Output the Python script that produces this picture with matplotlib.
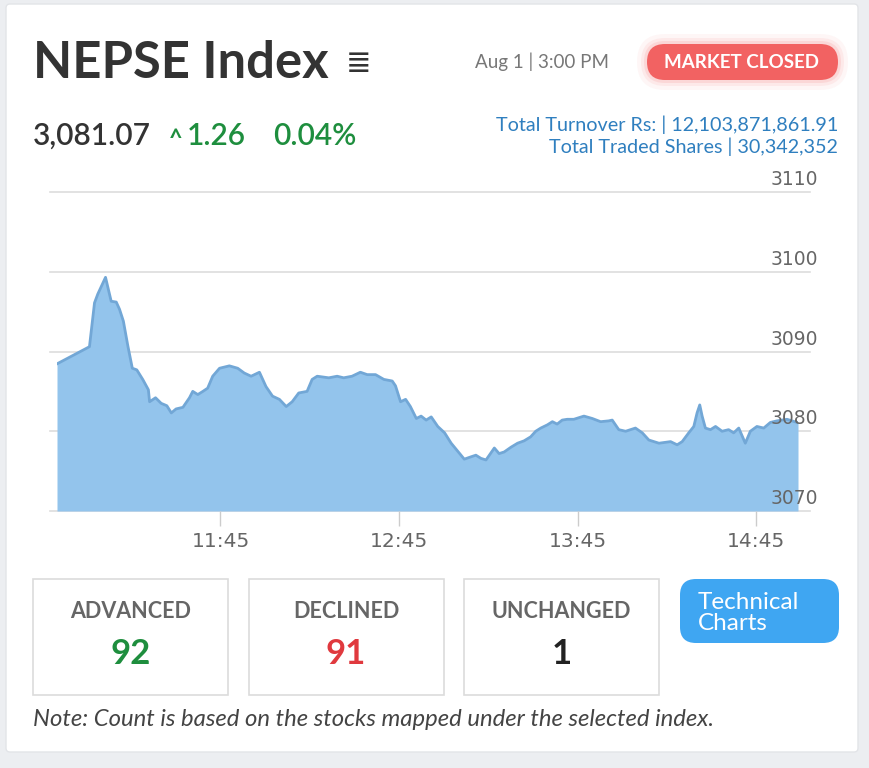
import numpy as np, matplotlib
matplotlib.use("Agg"); import matplotlib.pyplot as plt
from matplotlib.patches import FancyBboxPatch, Rectangle

# intraday NEPSE index, minutes after 11:00 vs index value
mins = [-9.9, 1.0, 2.7, 3.8, 6.4, 8.3, 10.0, 11.1, 12.4, 13.9, 15.4, 16.9, 18.9, 20.8, 21.2,
        23.2, 25.1, 27.0, 28.5, 30.1, 32.4, 34.6, 35.7, 37.4, 39.1, 40.7, 42.4, 44.7, 48.0,
        50.8, 53.0, 55.3, 58.1, 60.3, 62.5, 64.8, 67.1, 69.1, 71.3, 74.1, 75.8, 77.5, 81.4,
        84.2, 86.4, 89.2, 92.0, 94.3, 97.1, 99.9, 102.7, 103.8, 105.5, 107.2, 108.8, 110.8,
        112.4, 114.1, 115.8, 118.0, 120.3, 122.5, 124.7, 126.9, 129.2, 130.8, 132.5, 134.2,
        137.0, 138.6, 140.3, 142.6, 144.8, 147.0, 149.2, 150.9, 152.6, 154.8, 156.5, 158.1,
        159.8, 161.5, 163.7, 167.1, 169.9, 172.7, 175.4, 176.6, 178.8, 181.1, 184.4, 186.7,
        188.9, 192.3, 196.2, 198.4, 200.1, 202.3, 204.0, 205.1, 206.0, 206.8, 207.9, 209.6,
        211.3, 213.5, 215.7, 217.4, 219.1, 221.3, 223.0, 225.2, 227.5, 229.7, 231.9, 235.3, 239.0]
index = [3088.45, 3090.6, 3096.1, 3097.2, 3099.3, 3096.3, 3096.2, 3095.3, 3093.8, 3090.7, 3087.9,
         3087.7, 3086.5, 3085.2, 3083.7, 3084.2, 3083.5, 3083.2, 3082.3, 3082.8, 3083.0, 3084.2,
         3085.0, 3084.6, 3085.0, 3085.4, 3086.9, 3087.9, 3088.2, 3087.9, 3087.3, 3086.9, 3087.4,
         3085.6, 3084.4, 3084.0, 3083.1, 3083.7, 3084.8, 3085.0, 3086.5, 3086.9, 3086.7, 3086.9,
         3086.7, 3086.9, 3087.4, 3087.1, 3087.1, 3086.5, 3086.3, 3085.7, 3083.7, 3084.0, 3083.1,
         3081.6, 3081.9, 3081.4, 3081.8, 3080.6, 3079.8, 3078.5, 3077.5, 3076.5, 3076.8, 3077.0,
         3076.6, 3076.4, 3077.9, 3077.2, 3077.4, 3078.0, 3078.5, 3078.8, 3079.3, 3080.0, 3080.4,
         3080.8, 3081.2, 3080.9, 3081.4, 3081.5, 3081.5, 3081.9, 3081.6, 3081.2, 3081.3, 3081.4,
         3080.2, 3080.0, 3080.4, 3079.8, 3078.9, 3078.5, 3078.7, 3078.3, 3078.7, 3079.8, 3080.6,
         3082.3, 3083.3, 3081.9, 3080.4, 3080.2, 3080.6, 3080.0, 3080.2, 3079.8, 3080.4, 3078.5,
         3080.0, 3080.6, 3080.4, 3081.1, 3081.3, 3081.5, 3081.07]
xtick_pos = [45, 105, 165, 225]
xtick_lab = ["11:45", "12:45", "13:45", "14:45"]
ylevels = [3070, 3080, 3090, 3100, 3110]
box_titles = ["ADVANCED", "DECLINED", "UNCHANGED"]
box_counts = ["92", "91", "1"]
box_colors = ["#1e8e3e", "#e0393e", "#222222"]

FN = ["Lato", "DejaVu Sans"]

fig = plt.figure(figsize=(8.69, 7.68), dpi=100)
fig.patch.set_facecolor("#eceef1")
bg = fig.add_axes([0, 0, 1, 1]); bg.set_xlim(0, 869); bg.set_ylim(768, 0); bg.axis("off")
bg.add_patch(FancyBboxPatch((6, 4), 852, 748, boxstyle="round,pad=0,rounding_size=4",
                            fc="white", ec="#e2e4e8", lw=1))

# header
bg.text(33, 64, "NEPSE Index", fontsize=36.5, fontweight="bold", color="#333333",
        family=FN, va="center", ha="left")
bg.text(346, 63, "≣", fontsize=22, color="#333333", va="center", ha="left", family="DejaVu Sans")
bg.text(609, 62, "Aug 1 | 3:00 PM", fontsize=13.5, color="#777777", family=FN, va="center", ha="right")
for k, a in [(10, 0.05), (6, 0.08), (3, 0.12)]:
    bg.add_patch(FancyBboxPatch((647 - k, 44 - k), 191 + 2 * k, 36 + 2 * k,
                                boxstyle=f"round,pad=0,rounding_size={18 + k}",
                                fc="#f25c5c", ec="none", alpha=a))
bg.add_patch(FancyBboxPatch((647, 44), 191, 36, boxstyle="round,pad=0,rounding_size=18",
                            fc="#f26262", ec="none"))
bg.text(742, 62, "MARKET CLOSED", fontsize=13.5, fontweight="bold", color="white",
        family=FN, ha="center", va="center")

bg.text(33, 136, "3,081.07", fontsize=21.5, color="#333333", family=FN, va="center",
        fontweight="semibold")
bg.text(169, 139, "^", fontsize=17, color="#1e8e3e", family=FN, va="center", fontweight="bold")
bg.text(187, 136, "1.26", fontsize=21.5, color="#1e8e3e", family=FN, va="center",
        fontweight="semibold")
bg.text(273, 136, "0.04%", fontsize=21.5, color="#1e8e3e", family=FN, va="center",
        fontweight="semibold")
bg.text(838, 125, "Total Turnover Rs: | 12,103,871,861.91", fontsize=14.2, color="#2f7fbf",
        family=FN, ha="right", va="center")
bg.text(838, 147, "Total Traded Shares | 30,342,352", fontsize=14.2, color="#2f7fbf",
        family=FN, ha="right", va="center")

# chart
ax = fig.add_axes([57 / 869, 1 - 511 / 768, 741 / 869, 319 / 768])
ax.set_facecolor("none")
ax.fill_between(mins, index, 3070, color="#93c4ec", lw=0)
ax.plot(mins, index, color="#72a7d6", lw=2)
ax.set_xlim(mins[0], mins[-1]); ax.set_ylim(3070, 3110)
for v in ylevels:
    ax.axhline(v, xmin=-0.009, xmax=1.016, color="#dddddd", lw=1.2, clip_on=False, zorder=0)
    ax.annotate(str(v), xy=(1.027, v), xycoords=("axes fraction", "data"), xytext=(0, 2),
                textcoords="offset points", ha="right", va="bottom", fontsize=13.5,
                color="#666666", zorder=5)
ax.set_yticks([])
ax.set_xticks(xtick_pos); ax.set_xticklabels(xtick_lab)
ax.tick_params(axis="x", length=11, width=1, color="#cccccc", pad=4, labelsize=14.5,
               labelcolor="#666666")
for s in ax.spines.values(): s.set_visible(False)

# counters
for i, (t, c, col) in enumerate(zip(box_titles, box_counts, box_colors)):
    x0 = 33 + i * 215.5
    bg.add_patch(Rectangle((x0, 579), 195, 116, fc="white", ec="#dcdcdc", lw=1.2))
    bg.text(x0 + 97.5, 612, t, fontsize=15.5, fontweight="bold", color="#666666",
            family=FN, ha="center", va="center")
    bg.text(x0 + 97.5, 654, c, fontsize=25, fontweight="bold", color=col,
            family=FN, ha="center", va="center")
bg.add_patch(FancyBboxPatch((680, 579), 159, 64, boxstyle="round,pad=0,rounding_size=16",
                            fc="#3fa6f2", ec="none"))
bg.text(698, 613, "Technical\nCharts", fontsize=17.5, color="white", family=FN,
        ha="left", va="center", linespacing=0.95)
bg.text(33, 720, "Note: Count is based on the stocks mapped under the selected index.",
        fontsize=17.2, style="italic", color="#444444", family=FN, va="center")

plt.savefig("out.png", dpi=100, facecolor=fig.get_facecolor())
